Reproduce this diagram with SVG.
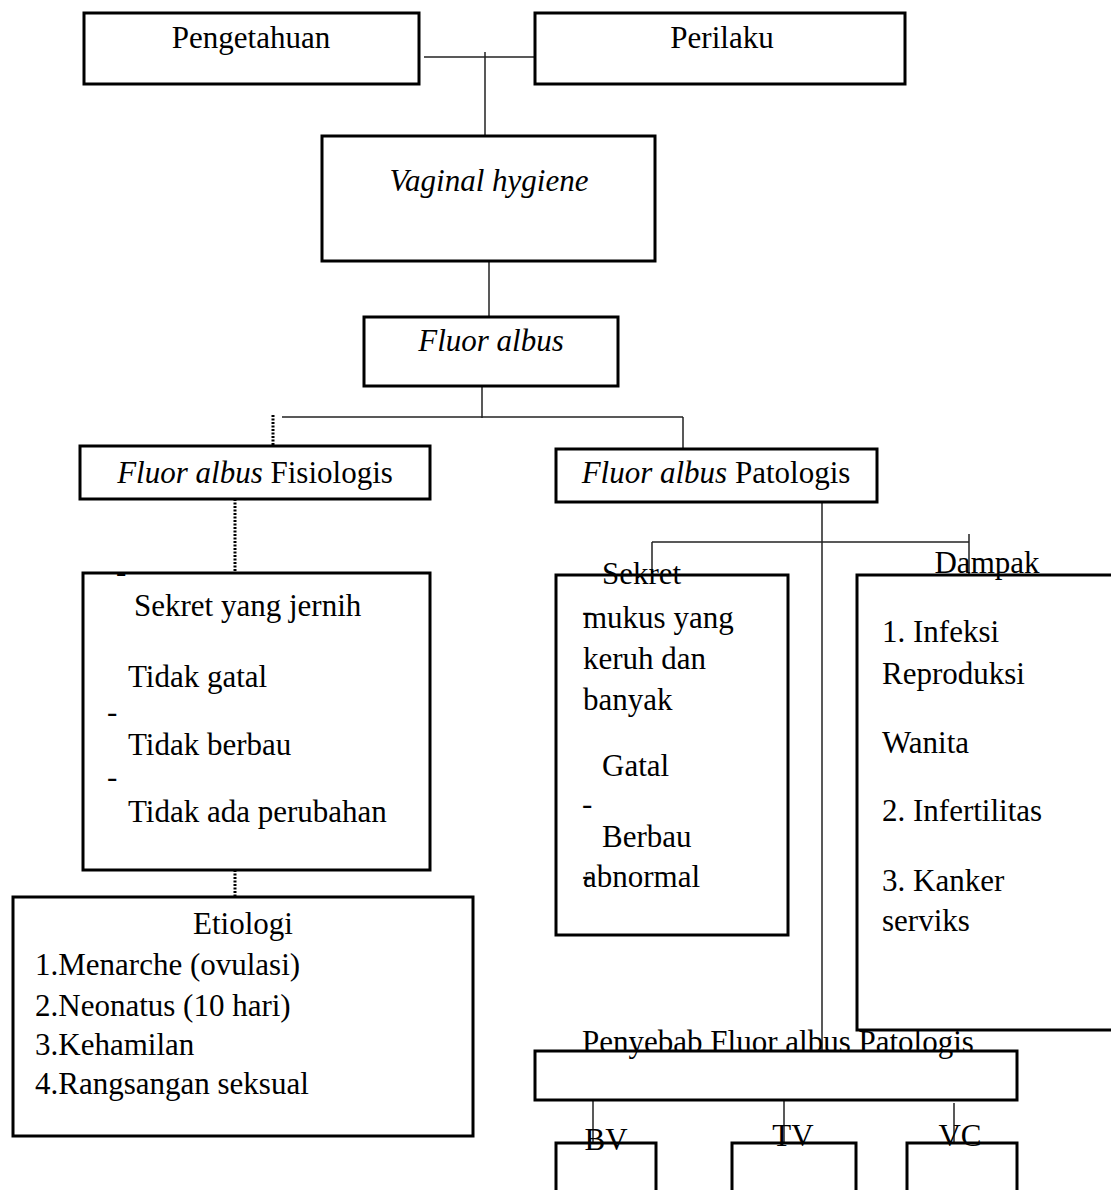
<svg xmlns="http://www.w3.org/2000/svg" width="1111" height="1190" viewBox="0 0 1111 1190">
<style>
.box{fill:#fff;stroke:#000;stroke-width:3}
.t{font-family:"Liberation Serif","Times New Roman",serif;font-size:31px;fill:#000}
.c{text-anchor:middle}
.i{font-style:italic}
.ln{stroke:#222;stroke-width:1.5;fill:none}
.dot{stroke:#000;stroke-width:3;stroke-dasharray:2 1.5;fill:none}
</style>
<rect width="1111" height="1190" fill="#fff"/>
<g id="connectors">
<line class="ln" x1="424" y1="57" x2="539" y2="57"/>
<line class="ln" x1="485" y1="52" x2="485" y2="136"/>
<line class="ln" x1="489" y1="261" x2="489" y2="317"/>
<line class="ln" x1="482" y1="386" x2="482" y2="418"/>
<line class="ln" x1="282" y1="417" x2="683" y2="417"/>
<line class="ln" x1="683" y1="417" x2="683" y2="449"/>
<line class="dot" x1="273" y1="415" x2="273" y2="446"/>
<line class="dot" x1="235" y1="499" x2="235" y2="573"/>
<line class="dot" x1="235" y1="870" x2="235" y2="918"/>
<line class="ln" x1="822" y1="502" x2="822" y2="1051"/>
<line class="ln" x1="652" y1="542" x2="969" y2="542"/>
<line class="ln" x1="652" y1="542" x2="652" y2="575"/>
<line class="ln" x1="969" y1="534" x2="969" y2="575"/>
<line class="ln" x1="593" y1="1100" x2="593" y2="1150"/>
<line class="ln" x1="784" y1="1100" x2="784" y2="1146"/>
<line class="ln" x1="954" y1="1103" x2="954" y2="1146"/>
</g>
<g id="pengetahuan"><rect class="box" x="84" y="13" width="335" height="71"/><text class="t c" x="251" y="48">Pengetahuan</text></g>
<g id="perilaku"><rect class="box" x="535" y="13" width="370" height="71"/><text class="t c" x="722" y="48">Perilaku</text></g>
<g id="vaginal"><rect class="box" x="322" y="136" width="333" height="125"/><text class="t c i" x="489" y="191">Vaginal hygiene</text></g>
<g id="fluor"><rect class="box" x="364" y="317" width="254" height="69"/><text class="t c i" x="491" y="351">Fluor albus</text></g>
<g id="fisiologis"><rect class="box" x="80" y="446" width="350" height="53"/><text class="t c" x="255" y="483"><tspan class="i">Fluor albus</tspan> Fisiologis</text></g>
<g id="patologis"><rect class="box" x="556" y="449" width="321" height="53"/><text class="t c" x="716" y="483"><tspan class="i">Fluor albus</tspan> Patologis</text></g>
<g id="ciri-fisiologis"><rect class="box" x="83" y="573" width="347" height="297"/>
<text class="t" x="116" y="582">-</text>
<text class="t" x="134" y="616">Sekret yang jernih</text>
<text class="t" x="128" y="687">Tidak gatal</text>
<text class="t" x="107" y="722">-</text>
<text class="t" x="128" y="755">Tidak berbau</text>
<text class="t" x="107" y="787">-</text>
<text class="t" x="128" y="822">Tidak ada perubahan</text>
</g>
<g id="etiologi"><rect class="box" x="13" y="897" width="460" height="239"/>
<text class="t c" x="243" y="934">Etiologi</text>
<text class="t" x="35" y="975">1.Menarche (ovulasi)</text>
<text class="t" x="35" y="1016">2.Neonatus (10 hari)</text>
<text class="t" x="35" y="1055">3.Kehamilan</text>
<text class="t" x="35" y="1094">4.Rangsangan seksual</text>
</g>
<g id="ciri-patologis"><rect class="box" x="556" y="575" width="232" height="360"/>
<text class="t" x="602" y="584">Sekret</text>
<text class="t" x="582" y="621">-</text>
<text class="t" x="583" y="628">mukus yang</text>
<text class="t" x="583" y="669">keruh dan</text>
<text class="t" x="583" y="710">banyak</text>
<text class="t" x="602" y="776">Gatal</text>
<text class="t" x="582" y="814">-</text>
<text class="t" x="602" y="847">Berbau</text>
<text class="t" x="582" y="885">-</text>
<text class="t" x="583" y="887">abnormal</text>
</g>
<g id="dampak"><rect class="box" x="857" y="575" width="256" height="455"/>
<text class="t c" x="987" y="573">Dampak</text>
<text class="t" x="882" y="642">1. Infeksi</text>
<text class="t" x="882" y="684">Reproduksi</text>
<text class="t" x="882" y="753">Wanita</text>
<text class="t" x="882" y="821">2. Infertilitas</text>
<text class="t" x="882" y="891">3. Kanker</text>
<text class="t" x="882" y="931">serviks</text>
</g>
<g id="penyebab"><rect class="box" x="535" y="1051" width="482" height="49"/><text class="t c" x="778" y="1052">Penyebab Fluor albus Patologis</text></g>
<g id="bv"><rect class="box" x="556" y="1143" width="100" height="60"/><text class="t c" x="606" y="1150">BV</text></g>
<g id="tv"><rect class="box" x="732" y="1143" width="124" height="60"/><text class="t c" x="793" y="1146">TV</text></g>
<g id="vc"><rect class="box" x="907" y="1143" width="110" height="60"/><text class="t c" x="960" y="1146">VC</text></g>
</svg>
